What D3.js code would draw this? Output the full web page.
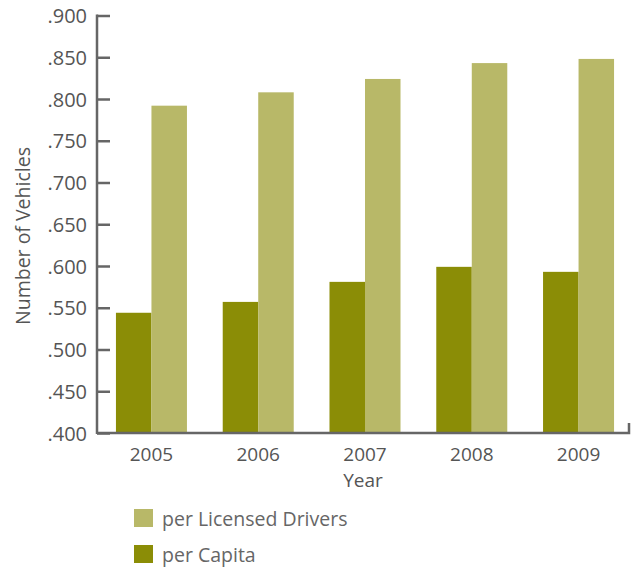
<!DOCTYPE html>
<html>
<head>
<meta charset="utf-8">
<script src="https://cdn.jsdelivr.net/npm/d3@7"></script>
<style>
    body { margin: 0; background: #fff; }
    text { font-family: "Open Sans", sans-serif; fill: #555; }
</style>
</head>
<body>
<svg id="chart" width="633" height="569"></svg>
<script>
const years = ["2005", "2006", "2007", "2008", "2009"];
const perCapita = [0.544, 0.557, 0.581, 0.599, 0.593];
const perDriver = [0.792, 0.808, 0.824, 0.843, 0.848];
const yTicks = [0.4, 0.45, 0.5, 0.55, 0.6, 0.65, 0.7, 0.75, 0.8, 0.85, 0.9];
const seriesNames = ["per Capita", "per Licensed Drivers"];
const legendOrder = ["per Licensed Drivers", "per Capita"];

const svg = d3.select("#chart");
const colors = { "per Capita": "#8b8d06", "per Licensed Drivers": "#b8b868" };
const axisColor = "#666";

const axisX = 97;      // left axis line
const axisRight = 629; // end of the bottom axis
const plotTop = 15.5, plotBottom = 433;

const y = d3.scaleLinear().domain([0.4, 0.9]).range([plotBottom, plotTop]);

const x = d3.scaleBand()
    .domain(years)
    .range([101, axisRight])
    .paddingInner(0.335)
    .paddingOuter(0.14);

const xSeries = d3.scaleBand()
    .domain(seriesNames)
    .range([0, x.bandwidth()]);

// rows for the bars
const rows = years.map((yr, i) => ({
    year: yr,
    values: [
        { key: "per Capita", v: perCapita[i] },
        { key: "per Licensed Drivers", v: perDriver[i] }
    ]
}));

const groups = svg.selectAll(".group")
    .data(rows)
    .enter().append("g")
    .attr("class", "group")
    .attr("transform", d => `translate(${x(d.year)},0)`);

groups.selectAll("rect")
    .data(d => d.values)
    .enter().append("rect")
    .attr("x", d => xSeries(d.key))
    .attr("width", xSeries.bandwidth())
    .attr("y", d => y(d.v))
    .attr("height", d => y(0.4) - y(d.v))
    .attr("fill", d => colors[d.key]);

// y axis: ticks point inward, labels on the left
const yAxis = d3.axisRight(y)
    .tickValues(yTicks)
    .tickSize(13)
    .tickFormat(d => d3.format(".3f")(d).replace(/^0/, ""));

const yg = svg.append("g")
    .attr("transform", `translate(${axisX},0)`)
    .call(yAxis);
yg.select(".domain").remove();
yg.selectAll(".tick line").attr("stroke", axisColor).attr("stroke-width", 2.5);
yg.selectAll(".tick text")
    .attr("x", -10)
    .attr("text-anchor", "end")
    .attr("dy", "0.35em")
    .style("font-size", "20px")
    .style("fill", "#555");

svg.append("line")
    .attr("x1", axisX).attr("x2", axisX)
    .attr("y1", plotTop - 1).attr("y2", plotBottom + 1)
    .attr("stroke", axisColor).attr("stroke-width", 2.5);

// bottom axis with small end tick
svg.append("path")
    .attr("d", `M${axisX},${plotBottom} H${axisRight} V${plotBottom - 10}`)
    .attr("fill", "none")
    .attr("stroke", axisColor)
    .attr("stroke-width", 2.5);

const xAxis = d3.axisBottom(x).tickSize(0).tickPadding(0);
const xg = svg.append("g")
    .attr("transform", `translate(0,${plotBottom})`)
    .call(xAxis);
xg.select(".domain").remove();
xg.selectAll(".tick text")
    .attr("y", 28)
    .attr("dy", 0)
    .style("font-size", "19px")
    .style("fill", "#555");

// axis titles
svg.append("text")
    .attr("x", (axisX + axisRight) / 2)
    .attr("y", 487)
    .attr("text-anchor", "middle")
    .style("font-size", "19px")
    .text("Year");

svg.append("text")
    .attr("transform", `translate(30,236) rotate(-90)`)
    .attr("text-anchor", "middle")
    .style("font-size", "19.5px")
    .text("Number of Vehicles");

// legend
const legend = svg.selectAll(".legend")
    .data(legendOrder)
    .enter().append("g")
    .attr("class", "legend")
    .attr("transform", (d, i) => `translate(134,${509 + i * 36})`);

legend.append("rect")
    .attr("width", 19)
    .attr("height", 18)
    .attr("fill", d => colors[d]);

legend.append("text")
    .attr("x", 28)
    .attr("y", 17)
    .style("font-size", "19.5px")
    .style("fill", "#666")
    .text(d => d);
</script>
</body>
</html>
